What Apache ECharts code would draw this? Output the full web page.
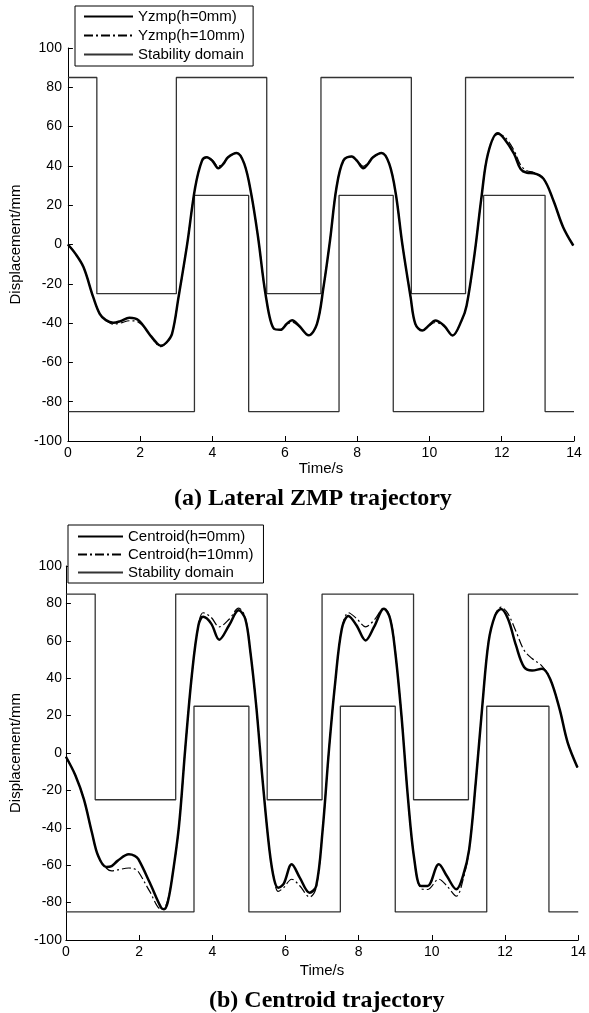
<!DOCTYPE html>
<html>
<head>
<meta charset="utf-8">
<script src="https://cdn.jsdelivr.net/npm/echarts@6/dist/echarts.min.js"></script>
<style>
html,body{margin:0;padding:0;background:#fff;}
#c{width:589px;height:1013px;}
</style>
</head>
<body>
<div id="c"></div>
<script>
// ---- data ----
const tZmp = [0,0.2,0.43,0.7,0.88,1.05,1.25,1.45,1.7,1.95,2.25,2.45,2.57,2.72,2.88,3.06,3.3,3.52,3.71,3.84,4.0,4.16,4.3,4.43,4.67,4.88,5.07,5.26,5.48,5.7,5.88,6.05,6.2,6.4,6.66,6.89,7.07,7.25,7.43,7.62,7.85,8.0,8.17,8.3,8.44,8.68,8.89,9.07,9.25,9.48,9.61,9.8,10.0,10.16,10.4,10.64,10.89,11.03,11.25,11.44,11.62,11.89,12.07,12.34,12.52,12.7,12.88,13.16,13.43,13.7,13.98];
const yzmpH0 = [0,-4.5,-11.5,-26.8,-35.3,-38.5,-39.8,-39,-37.3,-38.5,-45.5,-50,-51.5,-50,-45.5,-26.8,0.3,29,42.7,44.4,42.5,38.8,41,44.4,46.6,41,25.8,3.7,-26.8,-42.9,-43.4,-40.5,-38.5,-41.5,-46.2,-40.4,-21.7,2,29,42.7,44.8,42.5,38.8,41,44.4,46.6,41,25.8,0.3,-26.8,-40.4,-43.8,-41,-38.7,-41.2,-46.3,-38.7,-31,-4.7,24,46.2,56.6,53.8,46.2,38.5,36.5,36.3,33.4,22.4,8.8,-0.5];
const yzmpH10 = [0,-4.5,-11.5,-26.8,-35.3,-38.5,-40.5,-40,-38.8,-39.5,-45.5,-50.5,-52,-50,-45.5,-26.8,0.3,29,42.7,44.4,42.8,39.8,41.5,44.4,46.6,41,25.8,3.7,-26.8,-42.9,-43.4,-40.8,-39.5,-41.8,-46.2,-40.4,-21.7,2,29,42.7,44.8,42.8,39.8,41.5,44.4,46.6,41,25.8,0.3,-26.8,-40.4,-43.8,-41.2,-39.7,-41.5,-46.3,-38.7,-31,-4.7,24,46.2,56,55,48,40.5,37.5,36.8,33.4,22.4,8.8,-0.5];

const tCen = [0,0.26,0.49,0.71,0.88,1.1,1.25,1.41,1.72,1.88,1.98,2.29,2.6,2.68,2.78,2.91,3.09,3.26,3.44,3.62,3.75,3.97,4.19,4.46,4.72,4.9,5.03,5.2,5.38,5.56,5.69,5.8,5.95,6.17,6.39,6.66,6.84,7.01,7.19,7.36,7.54,7.72,7.94,8.19,8.42,8.69,8.86,9.0,9.17,9.35,9.52,9.7,9.88,10.19,10.41,10.67,10.85,11.02,11.2,11.38,11.55,11.73,11.89,12.08,12.3,12.52,12.74,13.01,13.23,13.49,13.71,13.98];
const cenH0 = [-2,-12,-24.7,-42.5,-55,-61,-60.5,-57.7,-54.2,-55,-56.8,-69.3,-82.7,-83.5,-80,-65.8,-39,2.1,41.4,68.2,72.8,69.2,60.6,68.3,76.3,71.8,55.8,25.4,-15.7,-51.5,-67.6,-72,-70,-59.5,-66.6,-74.7,-71.1,-42.5,2,37.9,66.5,73.3,68.3,60.2,67.4,77.2,71.8,54,20,-24.7,-56.8,-71.1,-71.1,-59.5,-65.8,-72.9,-65.8,-51.5,-15.7,25.4,59.4,73.6,77,71.8,57.5,46,44.1,45,39.7,23.6,5.7,-7.7];
const cenH10 = [-2,-12,-24.7,-42.5,-55,-61.5,-63,-62.5,-61.5,-62,-63.5,-74,-83.5,-83,-79,-65.8,-39,2.1,41.4,68.2,75,72.5,67.5,71.5,77.5,72.5,55.8,25.4,-15.7,-51.5,-67.6,-74,-72,-67.5,-71,-77,-72,-42.5,2,37.9,66.5,75,72,67.5,71,77.5,72.5,54,20,-24.7,-56.8,-72.5,-73,-67.5,-71,-76.5,-68,-51.5,-15.7,25.4,59.4,73.6,78,74.5,65,55,50.5,46.5,40,23.6,5.7,-7.7];

const upperT = [0,0.8,3.0,5.5,7.0,9.5,11.0,14];
const upperV = [85,-25,85,-25,85,-25,85,85];
const lowerT = [0,3.5,5.0,7.5,9.0,11.5,13.2,14];
const lowerV = [-85,25,-85,25,-85,25,-85,-85];

const namesA = ['Yzmp(h=0mm)','Yzmp(h=10mm)','Stability domain'];
const namesB = ['Centroid(h=0mm)','Centroid(h=10mm)','Stability domain'];
const captions = ['(a) Lateral ZMP trajectory','(b) Centroid trajectory'];

// ---- build ----
const pairs = (t, v) => t.map((x, i) => [x, v[i]]);
const FONT = 'Liberation Sans';

function xAxis(gi, gap){
  return {gridIndex: gi, type:'value', min:0, max:14, interval:2,
    name:'Time/s', nameLocation:'middle', nameGap:gap,
    nameTextStyle:{fontFamily:FONT, fontSize:15, color:'#000'},
    axisLine:{onZero:false, lineStyle:{color:'#000', width:1}},
    axisTick:{inside:true, length:5, lineStyle:{color:'#000'}},
    axisLabel:{fontFamily:FONT, fontSize:14, color:'#000', margin:5},
    splitLine:{show:false}};
}
function yAxis(gi, gap, margin){
  return {gridIndex: gi, type:'value', min:-100, max:100, interval:20,
    name:'Displacement/mm', nameLocation:'middle', nameGap:gap, nameRotate:90,
    nameTextStyle:{fontFamily:FONT, fontSize:15, color:'#000'},
    axisLine:{show:true, onZero:false, lineStyle:{color:'#000', width:1}},
    axisTick:{show:true, inside:true, length:5, lineStyle:{color:'#000'}},
    axisLabel:{fontFamily:FONT, fontSize:14, color:'#000', margin:margin},
    splitLine:{show:false}};
}
function domain(gi){
  const base = {name:'Stability domain', type:'line', xAxisIndex:gi, yAxisIndex:gi, step:'end',
    symbol:'none', color:'#333', lineStyle:{color:'#333', width:1.3}, z:1};
  return [Object.assign({}, base, {data: pairs(upperT, upperV)}),
          Object.assign({}, base, {data: pairs(lowerT, lowerV)})];
}
function curve(gi, name, t, v, dashed){
  return {name, type:'line', xAxisIndex:gi, yAxisIndex:gi, symbol:'none', smooth:0.35,
    color:'#000',
    lineStyle: dashed ? {color:'#000', width:1.2, type:[9,3,2,3]} : {color:'#000', width:2.5},
    z: dashed ? 3 : 2,
    data: pairs(t, v)};
}
function legend(left, top, data, itemWidth, gap, padding){
  return {left, top, orient:'vertical', data, itemWidth, itemHeight:15, itemGap:gap,
    padding, borderColor:'#000', borderWidth:1, borderRadius:0, backgroundColor:'#fff',
    selectedMode:false,
    itemStyle:{opacity:0, borderWidth:0},
    textStyle:{fontFamily:FONT, fontSize:15, color:'#000', lineHeight:15}};
}

const chart = echarts.init(document.getElementById('c'), null, {renderer:'canvas'});
chart.setOption({
  animation:false,
  backgroundColor:'#fff',
  grid:[
    {left:61, top:48, width:513, height:393},
    {left:53, top:566, width:529, height:374}
  ],
  xAxis:[xAxis(0, 19), xAxis(1, 23)],
  yAxis:[yAxis(0, 40, 6), yAxis(1, 32, 4)],
  legend:[
    legend(75, 6, namesA, 49, 4, [3,8,4,8]),
    legend(68, 525, namesB, 45, 3, [4,10,3,9])
  ],
  graphic:[
    {type:'text', left:174, top:487, style:{text:captions[0], font:'bold 24px "Liberation Serif"', fill:'#000'}},
    {type:'text', left:209, top:989, style:{text:captions[1], font:'bold 24px "Liberation Serif"', fill:'#000'}}
  ],
  series:[
    ...domain(0),
    curve(0, namesA[0], tZmp, yzmpH0, false),
    curve(0, namesA[1], tZmp, yzmpH10, true),
    ...domain(1),
    curve(1, namesB[0], tCen, cenH0, false),
    curve(1, namesB[1], tCen, cenH10, true)
  ]
});
</script>
</body>
</html>
